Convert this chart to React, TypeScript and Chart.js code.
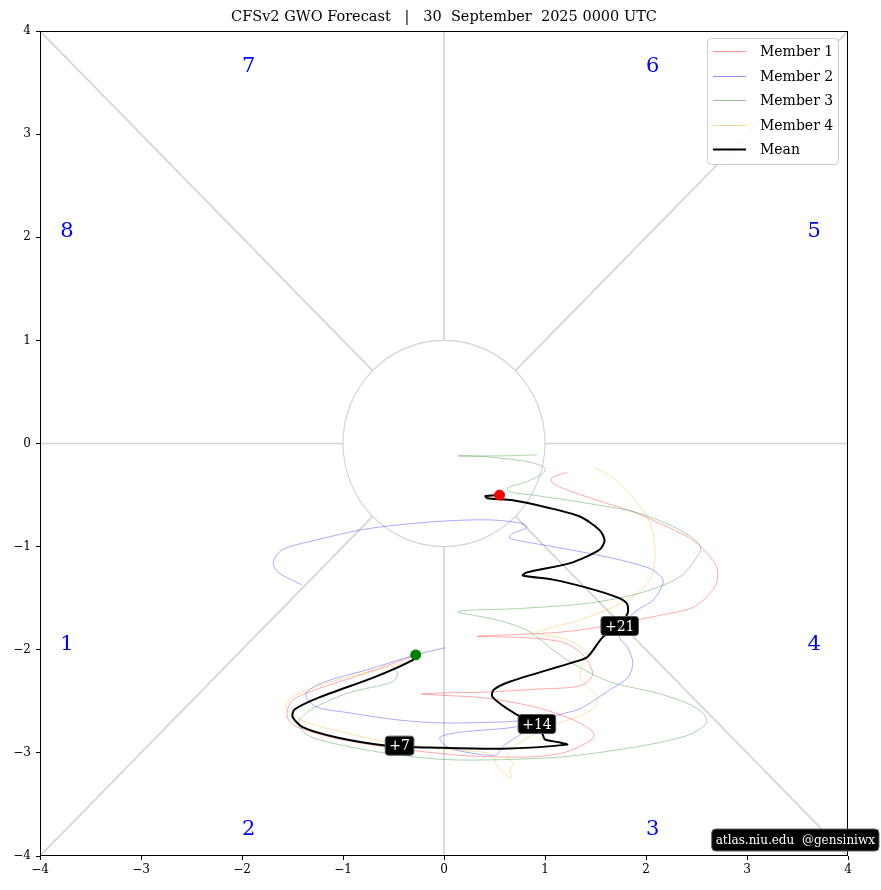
import React, { useEffect, useRef } from "react";
import { Chart, registerables } from "chart.js";

Chart.register(...registerables);

const TITLE = "CFSv2 GWO Forecast   |   30  September  2025 0000 UTC";
const FONT = "'DejaVu Serif', 'Liberation Serif', serif";

const SERIES_NAMES = ["Member 1", "Member 2", "Member 3", "Member 4", "Mean"];

const M1_X = [-0.28, -0.36, -0.78, -1.28, -1.5, -1.55, -1.54, -1.45, -1.11, -0.61, -0.19, 0.26, 0.85, 1.18, 1.38, 1.48, 1.47, 1.28, 0.92, 0.43, -0.04, -0.22, -0.04, 0.43, 0.95, 1.35, 1.47, 1.43, 1.32, 1.15, 0.75, 0.33, 0.75, 1.15, 1.54, 1.91, 2.17, 2.44, 2.6, 2.7, 2.7, 2.6, 2.44, 2.17, 1.87, 1.61, 1.22, 1.07, 1.07, 1.22];
const M1_Y = [-2.05, -2.08, -2.23, -2.39, -2.49, -2.59, -2.68, -2.75, -2.85, -2.94, -2.99, -3.03, -3.04, -3.0, -2.92, -2.85, -2.79, -2.68, -2.56, -2.47, -2.44, -2.43, -2.42, -2.41, -2.38, -2.35, -2.25, -2.12, -2.0, -1.92, -1.88, -1.87, -1.85, -1.83, -1.78, -1.71, -1.66, -1.6, -1.49, -1.35, -1.2, -1.06, -0.92, -0.79, -0.66, -0.58, -0.45, -0.38, -0.33, -0.28];

const M2_X = [0.01, -0.28, -0.78, -1.18, -1.36, -1.36, -1.25, -0.95, -0.46, -0.01, 0.58, 0.85, 0.7, 0.16, -0.04, 0.03, 0.26, 0.52, 0.58, 0.78, 1.08, 1.35, 1.64, 1.82, 1.87, 1.82, 1.74, 1.81, 1.94, 2.07, 2.17, 2.14, 2.01, 1.61, 1.08, 0.65, 0.67, 0.82, 0.75, 0.43, -0.12, -0.78, -1.28, -1.6, -1.69, -1.64, -1.41];
const M2_Y = [-1.98, -2.05, -2.2, -2.31, -2.41, -2.47, -2.56, -2.61, -2.68, -2.71, -2.7, -2.69, -2.75, -2.8, -2.85, -2.94, -3.0, -3.02, -2.94, -2.81, -2.65, -2.57, -2.39, -2.27, -2.13, -1.98, -1.88, -1.71, -1.6, -1.52, -1.35, -1.28, -1.2, -1.1, -1.0, -0.92, -0.88, -0.81, -0.77, -0.74, -0.76, -0.83, -0.94, -1.03, -1.15, -1.25, -1.37];

const M3_X = [-0.51, -0.46, -0.51, -0.95, -1.28, -1.43, -1.41, -1.28, -0.78, -0.19, 0.26, 1.15, 1.91, 2.41, 2.6, 2.56, 2.41, 2.11, 1.64, 1.25, 1.08, 0.82, 0.52, 0.14, 0.75, 1.42, 1.94, 2.34, 2.53, 2.53, 2.34, 1.91, 1.42, 0.88, 0.65, 0.63, 0.82, 0.98, 1.0, 0.85, 0.43, 0.14, 0.55, 0.92];
const M3_Y = [-2.16, -2.23, -2.31, -2.42, -2.56, -2.68, -2.78, -2.86, -2.97, -3.05, -3.07, -3.04, -2.94, -2.83, -2.71, -2.61, -2.52, -2.42, -2.31, -2.12, -2.0, -1.81, -1.71, -1.63, -1.6, -1.55, -1.45, -1.29, -1.06, -0.98, -0.84, -0.67, -0.58, -0.5, -0.47, -0.43, -0.37, -0.29, -0.24, -0.18, -0.13, -0.12, -0.12, -0.11];

const M4_X = [-0.22, -0.32, -0.78, -1.28, -1.52, -1.57, -1.52, -1.35, -0.95, -0.55, -0.04, 0.43, 0.5, 0.52, 0.58, 0.67, 0.65, 0.68, 0.62, 0.75, 1.08, 1.35, 1.5, 1.52, 1.45, 1.35, 1.37, 1.42, 1.35, 1.18, 0.92, 1.08, 1.35, 1.81, 2.04, 2.09, 2.04, 1.87, 1.67, 1.48];
const M4_Y = [-2.0, -2.1, -2.22, -2.36, -2.47, -2.56, -2.61, -2.71, -2.81, -2.9, -2.96, -3.0, -3.05, -3.12, -3.19, -3.24, -3.17, -3.1, -3.04, -2.9, -2.73, -2.64, -2.55, -2.46, -2.38, -2.27, -2.15, -2.05, -1.97, -1.89, -1.84, -1.78, -1.71, -1.52, -1.32, -1.06, -0.77, -0.52, -0.33, -0.23];

const MEAN_X = [-0.28, -0.31, -0.7, -1.23, -1.48, -1.5, -1.4, -1.06, -0.56, -0.07, 0.58, 1.22, 1.15, 1.0, 0.98, 0.92, 0.72, 0.48, 0.49, 0.65, 1.25, 1.42, 1.57, 1.74, 1.82, 1.81, 1.71, 1.42, 1.08, 0.78, 0.82, 1.25, 1.54, 1.59, 1.54, 1.35, 1.02, 0.68, 0.43, 0.41, 0.55];
const MEAN_Y = [-2.05, -2.1, -2.27, -2.46, -2.58, -2.65, -2.75, -2.85, -2.93, -2.95, -2.96, -2.92, -2.9, -2.87, -2.83, -2.72, -2.63, -2.46, -2.39, -2.31, -2.13, -2.07, -1.88, -1.77, -1.64, -1.55, -1.49, -1.4, -1.32, -1.28, -1.25, -1.16, -1.03, -0.94, -0.84, -0.71, -0.62, -0.55, -0.53, -0.51, -0.5];

const LEAD_LABELS = ["+7", "+14", "+21"];
const LEAD_X = [-0.44, 0.92, 1.74];
const LEAD_Y = [-2.93, -2.72, -1.77];

const PHASE_LABELS = ["1", "2", "3", "4", "5", "6", "7", "8"];
const PHASE_X = [-3.8, -2, 2, 3.6, 3.6, 2, -2, -3.8];
const PHASE_Y = [-2, -3.8, -3.8, -2, 2, 3.6, 3.6, 2];

const WATERMARK = "atlas.niu.edu  @gensiniwx";

const SERIES_COLORS = ["rgba(255,0,0,0.42)", "rgba(0,0,255,0.42)", "rgba(0,128,0,0.42)", "rgba(255,165,0,0.42)", "#000000"];
const LEGEND_COLORS = ["#ff9494", "#9494ff", "#94c594", "#ffd594", "#000000"];

const toPoints = (xs: number[], ys: number[]) => xs.map((x, i) => ({ x, y: ys[i] }));

function roundRect(ctx: CanvasRenderingContext2D, x: number, y: number, w: number, h: number, r: number) {
  ctx.beginPath();
  ctx.moveTo(x + r, y);
  ctx.lineTo(x + w - r, y);
  ctx.arcTo(x + w, y, x + w, y + r, r);
  ctx.lineTo(x + w, y + h - r);
  ctx.arcTo(x + w, y + h, x + w - r, y + h, r);
  ctx.lineTo(x + r, y + h);
  ctx.arcTo(x, y + h, x, y + h - r, r);
  ctx.lineTo(x, y + r);
  ctx.arcTo(x, y, x + r, y, r);
  ctx.closePath();
}

const backgroundPlugin = {
  id: "gwoBackground",
  beforeDatasetsDraw(chart: any) {
    const { ctx, chartArea, scales } = chart;
    const X = (v: number) => scales.x.getPixelForValue(v);
    const Y = (v: number) => scales.y.getPixelForValue(v);
    ctx.save();
    ctx.beginPath();
    ctx.rect(chartArea.left, chartArea.top, chartArea.right - chartArea.left, chartArea.bottom - chartArea.top);
    ctx.clip();
    ctx.strokeStyle = "#d3d3d3";
    ctx.lineWidth = 1.6;
    const r = Math.SQRT1_2;
    const segs = [
      [-4, 0, -1, 0], [1, 0, 4, 0], [0, 1, 0, 4], [0, -1, 0, -4],
      [r, r, 4, 4], [-r, r, -4, 4], [r, -r, 4, -4], [-r, -r, -4, -4],
    ];
    for (const [a, b, c, d] of segs) {
      ctx.beginPath();
      ctx.moveTo(X(a), Y(b));
      ctx.lineTo(X(c), Y(d));
      ctx.stroke();
    }
    ctx.lineWidth = 1.1;
    ctx.beginPath();
    ctx.ellipse(X(0), Y(0), Math.abs(X(1) - X(0)), Math.abs(Y(1) - Y(0)), 0, 0, Math.PI * 2);
    ctx.stroke();
    ctx.fillStyle = "#0000ff";
    ctx.font = `21px ${FONT}`;
    ctx.textAlign = "left";
    ctx.textBaseline = "alphabetic";
    PHASE_LABELS.forEach((t, i) => ctx.fillText(t, X(PHASE_X[i]), Y(PHASE_Y[i])));
    ctx.restore();
  },
};

const overlayPlugin = {
  id: "gwoOverlay",
  afterDraw(chart: any) {
    const { ctx, chartArea, scales } = chart;
    const X = (v: number) => scales.x.getPixelForValue(v);
    const Y = (v: number) => scales.y.getPixelForValue(v);
    ctx.save();

    // lead-time labels
    ctx.font = `14px ${FONT}`;
    ctx.textAlign = "center";
    ctx.textBaseline = "middle";
    LEAD_LABELS.forEach((t, i) => {
      const cx = X(LEAD_X[i]);
      const cy = Y(LEAD_Y[i]);
      const w = ctx.measureText(t).width + 8;
      const h = 19;
      roundRect(ctx, cx - w / 2, cy - h / 2, w, h, 3);
      ctx.fillStyle = "#000";
      ctx.fill();
      ctx.strokeStyle = "#555";
      ctx.lineWidth = 1;
      ctx.stroke();
      ctx.fillStyle = "#fff";
      ctx.fillText(t, cx, cy + 1);
    });

    // legend
    const items = chart.data.datasets.filter((d: any) => SERIES_NAMES.includes(d.label));
    const lw = 131;
    const lh = 126;
    const lx = chartArea.right - 10 - lw;
    const ly = chartArea.top + 7;
    roundRect(ctx, lx + 0.5, ly + 0.5, lw, lh, 4);
    ctx.fillStyle = "rgba(255,255,255,0.85)";
    ctx.fill();
    ctx.strokeStyle = "#cccccc";
    ctx.lineWidth = 1;
    ctx.stroke();
    ctx.font = `14px ${FONT}`;
    ctx.textAlign = "left";
    ctx.textBaseline = "middle";
    items.forEach((d: any, i: number) => {
      const idx = SERIES_NAMES.indexOf(d.label);
      const yy = Math.round(ly + 13 + i * 24.5) + 0.5;
      ctx.strokeStyle = LEGEND_COLORS[idx];
      ctx.lineWidth = d.label === "Mean" ? 2 : 1;
      ctx.beginPath();
      ctx.moveTo(lx + 6, yy);
      ctx.lineTo(lx + 39, yy);
      ctx.stroke();
      ctx.fillStyle = "#000";
      ctx.fillText(d.label, lx + 53, yy + 0.5);
    });

    // frame
    ctx.strokeStyle = "#000";
    ctx.lineWidth = 1;
    ctx.strokeRect(chartArea.left + 0.5, chartArea.top + 0.5, chartArea.right - chartArea.left - 1, chartArea.bottom - chartArea.top - 1);

    // watermark
    ctx.font = `12px ${FONT}`;
    const ww = ctx.measureText(WATERMARK).width + 8;
    const wh = 22;
    const wx = chart.width - 2 - ww;
    const wy = chartArea.bottom - 5 - wh;
    roundRect(ctx, wx, wy, ww, wh, 4);
    ctx.fillStyle = "#000";
    ctx.fill();
    ctx.strokeStyle = "#666";
    ctx.stroke();
    ctx.fillStyle = "#fff";
    ctx.textAlign = "center";
    ctx.fillText(WATERMARK, wx + ww / 2, wy + wh / 2 + 1);

    // title
    ctx.font = `14.5px ${FONT}`;
    ctx.fillStyle = "#000";
    ctx.textAlign = "center";
    ctx.textBaseline = "alphabetic";
    ctx.fillText(TITLE, (chartArea.left + chartArea.right) / 2, 21);
    ctx.restore();
  },
};

export default function App() {
  const canvasRef = useRef<HTMLCanvasElement | null>(null);

  useEffect(() => {
    document.body.style.margin = "0";
    const canvas = canvasRef.current;
    if (!canvas) return;
    const member = (label: string, xs: number[], ys: number[], color: string, order: number) => ({
      label,
      data: toPoints(xs, ys),
      showLine: true,
      borderColor: color,
      backgroundColor: color,
      borderWidth: 0.8,
      pointRadius: 0,
      pointHoverRadius: 0,
      tension: 0.3,
      fill: false,
      order,
    });
    const axis = (pos: "bottom" | "left") => ({
      type: "linear" as const,
      position: pos,
      min: -4,
      max: 4,
      ticks: {
        stepSize: 1,
        color: "#000",
        font: { family: FONT, size: 12 },
        padding: pos === "left" ? 5 : 3,
        callback: (v: any) => String(v).replace("-", "\u2212"),
      },
      grid: {
        display: true,
        drawOnChartArea: false,
        drawTicks: true,
        tickLength: 4,
        color: "#000",
      },
      border: { display: false },
      afterFit: (scale: any) => {
        if (pos === "left") scale.width = 40;
        else scale.height = 34;
      },
    });

    const chart = new Chart(canvas, {
      type: "scatter",
      data: {
        datasets: [
          member(SERIES_NAMES[0], M1_X, M1_Y, SERIES_COLORS[0], 5),
          member(SERIES_NAMES[1], M2_X, M2_Y, SERIES_COLORS[1], 4),
          member(SERIES_NAMES[2], M3_X, M3_Y, SERIES_COLORS[2], 3),
          member(SERIES_NAMES[3], M4_X, M4_Y, SERIES_COLORS[3], 2),
          { ...member(SERIES_NAMES[4], MEAN_X, MEAN_Y, SERIES_COLORS[4], 1), borderWidth: 2, tension: 0.25 },
          {
            label: "start",
            data: [{ x: MEAN_X[0], y: MEAN_Y[0] }],
            pointRadius: 5,
            pointBackgroundColor: "#008000",
            pointBorderColor: "#008000",
            showLine: false,
            order: 0,
          },
          {
            label: "end",
            data: [{ x: MEAN_X[MEAN_X.length - 1], y: MEAN_Y[MEAN_Y.length - 1] }],
            pointRadius: 5,
            pointBackgroundColor: "#ff0000",
            pointBorderColor: "#ff0000",
            showLine: false,
            order: 0,
          },
        ],
      },
      options: {
        responsive: false,
        animation: false,
        maintainAspectRatio: false,
        layout: { padding: { top: 31, right: 33, left: 0, bottom: 0 } },
        plugins: {
          legend: { display: false },
          title: { display: false },
          tooltip: { enabled: false },
        },
        scales: {
          x: axis("bottom"),
          y: axis("left"),
        },
      },
      plugins: [backgroundPlugin, overlayPlugin],
    } as any);
    return () => chart.destroy();
  }, []);

  return (
    <div style={{ position: "absolute", left: 0, top: 0, width: 881, height: 890, background: "#fff" }}>
      <canvas ref={canvasRef} width={881} height={890} style={{ display: "block", width: 881, height: 890 }} />
    </div>
  );
}
